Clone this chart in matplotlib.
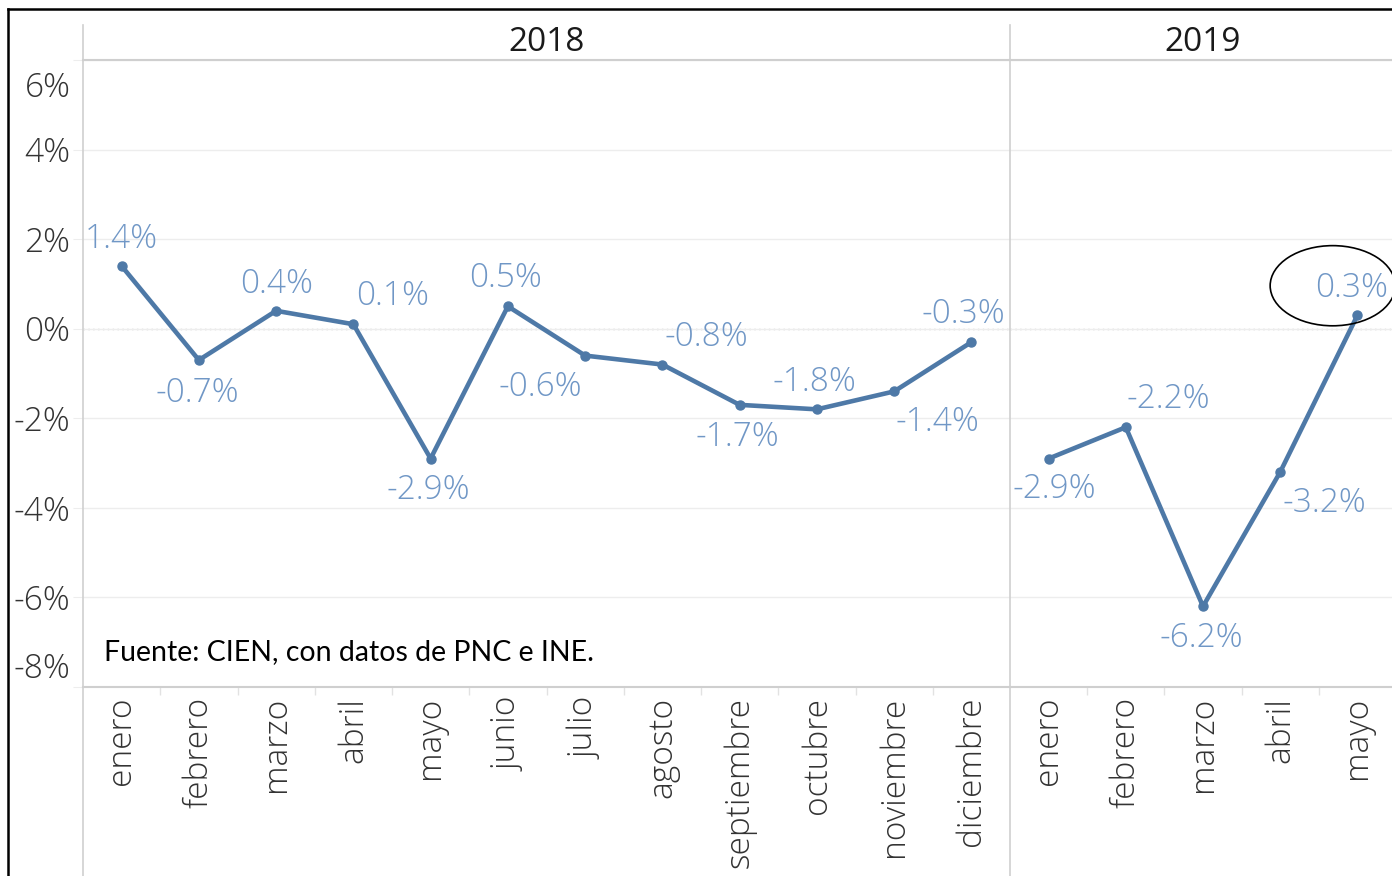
import numpy as np
import matplotlib
matplotlib.use("Agg")
import matplotlib.pyplot as plt
from matplotlib.patches import Ellipse
from matplotlib.lines import Line2D
from matplotlib.transforms import ScaledTranslation

# monthly variation, percent
months_2018 = ["enero", "febrero", "marzo", "abril", "mayo", "junio", "julio",
               "agosto", "septiembre", "octubre", "noviembre", "diciembre"]
months_2019 = ["enero", "febrero", "marzo", "abril", "mayo"]
var_2018 = [1.4, -0.7, 0.4, 0.1, -2.9, 0.5, -0.6, -0.8, -1.7, -1.8, -1.4, -0.3]
var_2019 = [-2.9, -2.2, -6.2, -3.2, 0.3]
y_ticks = [-8, -6, -4, -2, 0, 2, 4, 6]
source = "Fuente: CIEN, con datos de PNC e INE."

# where each value label sits relative to its point (pixels)
lbl_off_2018 = [(0, 27), (-2, -33), (0, 27), (39, 28), (-2, -32), (-2, 28),
                (-45, -32), (44, 27), (-2, -32), (-2, 27), (43, -31), (-8, 28)]
lbl_off_2019 = [(6, -31), (43, 28), (-2, -32), (44, -31), (-6, 27)]

LINE = "#4e79a7"
LABEL = "#7097c6"
GRID = "#ededed"
AXIS = "#cfcfcf"
TXT = "#333333"
FS = 24

plt.rcParams["font.family"] = ["Open Sans", "DejaVu Sans"]
plt.rcParams["font.weight"] = "light"

W, H = 1392, 876
fig = plt.figure(figsize=(W / 100, H / 100), dpi=100)
fig.patch.set_facecolor("white")


def box(x0, y0, x1, y1):
    return [x0 / W, 1 - y1 / H, (x1 - x0) / W, (y1 - y0) / H]


def fline(xs, ys, **kw):
    fig.add_artist(Line2D([x / W for x in xs], [1 - y / H for y in ys],
                          transform=fig.transFigure, **kw))


ax1 = fig.add_axes(box(83, 60, 1010, 687))
ax2 = fig.add_axes(box(1010, 60, 1396, 687))

panels = [(ax1, months_2018, var_2018, lbl_off_2018, "2018"),
          (ax2, months_2019, var_2019, lbl_off_2019, "2019")]

for ax, months, vals, offs, year in panels:
    x = np.arange(len(months))
    ax.set_xlim(-0.5, len(months) - 0.5)
    ax.set_ylim(-8, 6)
    ax.set_yticks(y_ticks)
    ax.grid(axis="y", color=GRID, lw=1)
    ax.axhline(0, color="#b5b5b5", lw=1, ls=(0, (1, 2.5)), zorder=1)
    ax.plot(x, vals, color=LINE, lw=3.3, marker="o", ms=6.5,
            solid_capstyle="round", zorder=3)
    for xi, v, (dx, dy) in zip(x, vals, offs):
        ax.annotate(f"{v:.1f}%", (xi, v), xytext=(dx, dy),
                    textcoords="offset pixels", ha="center", va="center",
                    fontsize=FS, color=LABEL, annotation_clip=False, zorder=4)

    for s in ["left", "right"]:
        ax.spines[s].set_visible(False)
    for s in ["top", "bottom"]:
        ax.spines[s].set_color(AXIS)
        ax.spines[s].set_linewidth(1.5)

    ax.set_xticks(x)
    ax.set_xticklabels(months, rotation=90, fontsize=FS, color=TXT)
    ax.tick_params(axis="x", which="major", length=0, pad=7)
    ax.set_xticks(x[:-1] + 0.5, minor=True)
    ax.tick_params(axis="x", which="minor", length=6, color="#e2e2e2", width=1)

    ax.text(0.5, 1 + 17 / 627, year, transform=ax.transAxes, ha="center",
            va="center", fontsize=24, fontweight="medium", color="#1a1a1a")

ax1.set_yticklabels([f"{t}%" for t in y_ticks], fontsize=FS, color=TXT)
ax1.tick_params(axis="y", length=7, color=GRID, pad=2)
# keep the end labels inside the plot band
for lbl in ax1.get_yticklabels():
    if lbl.get_text() == "6%":
        lbl.set_transform(lbl.get_transform() +
                          ScaledTranslation(0, -0.24, fig.dpi_scale_trans))
    elif lbl.get_text() == "-8%":
        lbl.set_transform(lbl.get_transform() +
                          ScaledTranslation(0, 0.22, fig.dpi_scale_trans))
ax2.tick_params(axis="y", length=0, labelleft=False)

ax1.text((104 - 83) / 927, (687 - 652) / 627, source, transform=ax1.transAxes,
         ha="left", va="center", fontsize=20.5, fontweight="normal",
         color="black", family=["Lato", "DejaVu Sans"])

# highlight the latest month
last = len(var_2019) - 1
ax2.add_patch(Ellipse((last - 0.32, var_2019[-1] + 0.66), 1.62, 1.79,
                      fill=False, ec="black", lw=1.2, clip_on=False, zorder=5))

# panel separators and slide frame
fline([83, 83], [25, 876], color=AXIS, lw=1.2)
fline([1010, 1010], [25, 876], color=AXIS, lw=1.2)
fline([8, W], [9, 9], color="black", lw=1.8)
fline([8, 8], [9, H], color="black", lw=1.8)

fig.savefig("out.png", dpi=100)
